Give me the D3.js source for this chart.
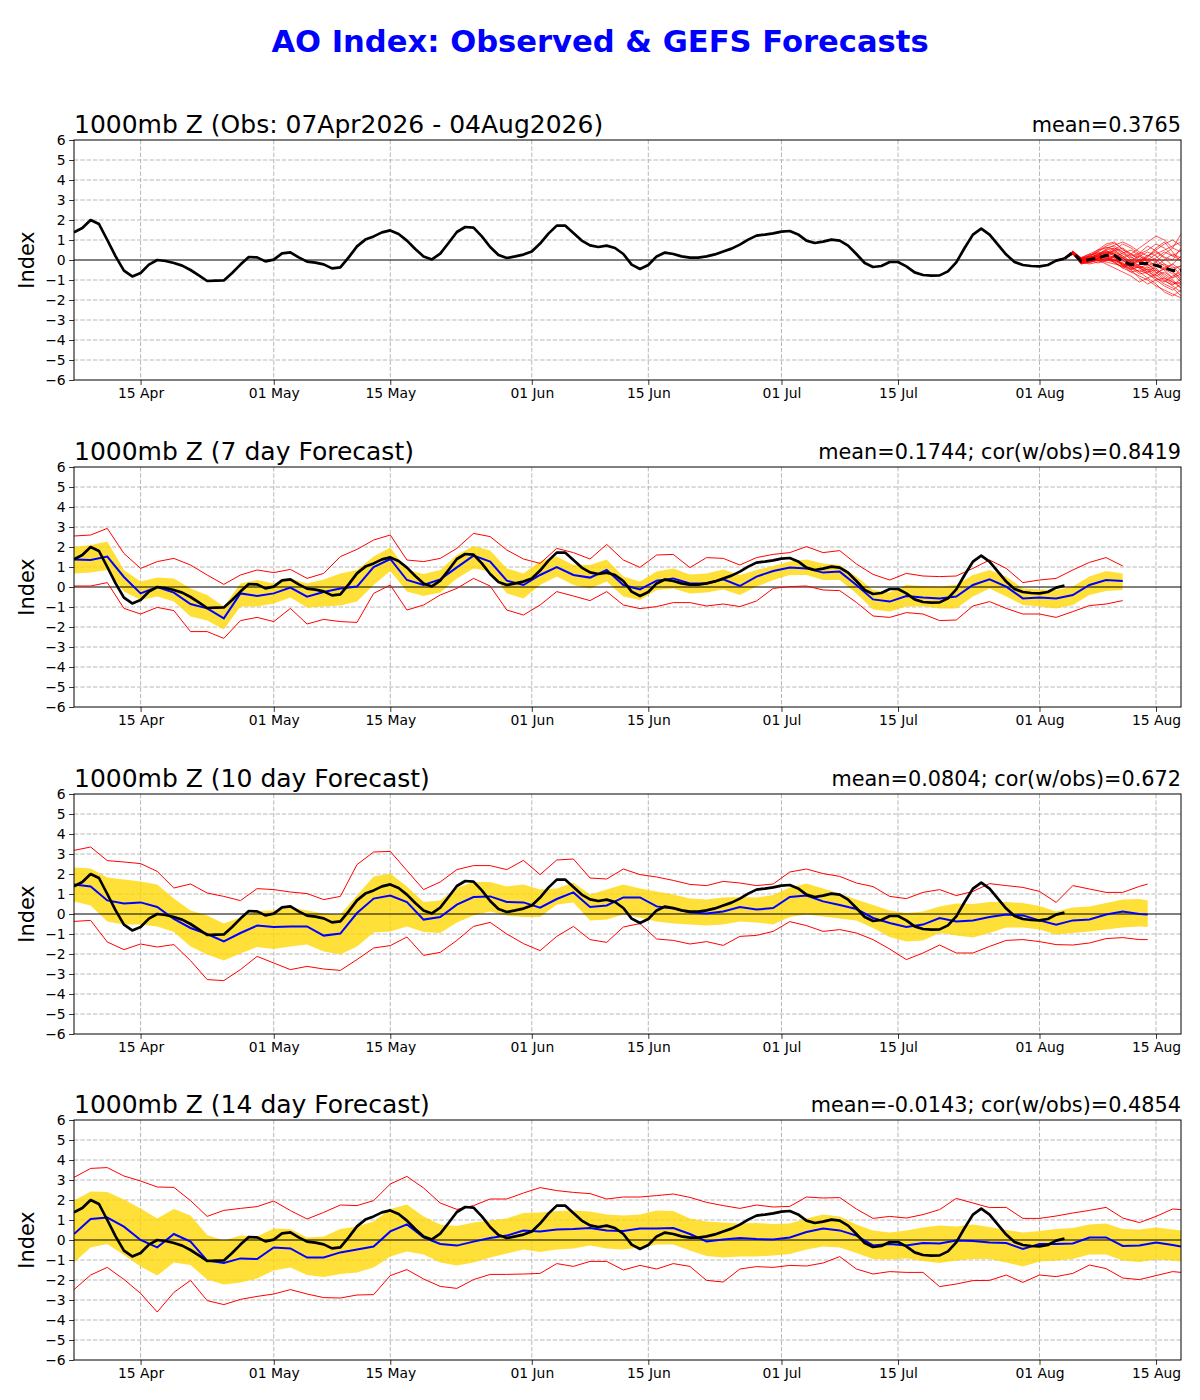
<!DOCTYPE html>
<html><head><meta charset="utf-8">
<script src="https://cdn.jsdelivr.net/npm/d3@7"></script>
<style>
body{margin:0;background:#fff}
text{font-family:"DejaVu Sans",sans-serif}
</style>
</head><body>
<svg id="c" width="1200" height="1400"></svg>
<script>
// ---------------- DATA ----------------
const mainTitle = "AO Index: Observed & GEFS Forecasts";
const panelTitles = ["1000mb Z (Obs: 07Apr2026 - 04Aug2026)", "1000mb Z (7 day Forecast)", "1000mb Z (10 day Forecast)", "1000mb Z (14 day Forecast)"];
const panelStats = ["mean=0.3765", "mean=0.1744; cor(w/obs)=0.8419", "mean=0.0804; cor(w/obs)=0.672", "mean=-0.0143; cor(w/obs)=0.4854"];
const yLabel = "Index";
const startDate = "2026-04-07";
const axisEndDay = 133;
const xTickDates = ["2026-04-15","2026-05-01","2026-05-15","2026-06-01","2026-06-15","2026-07-01","2026-07-15","2026-08-01","2026-08-15"];
const yTicks = [-6,-5,-4,-3,-2,-1,0,1,2,3,4,5,6];

// observed AO, daily from 07 Apr
const observed = [1.38,1.6,2.0,1.8,1.0,0.18,-0.53,-0.82,-0.65,-0.23,0.0,-0.05,-0.15,-0.28,-0.5,-0.77,-1.05,-1.03,-1.02,-0.65,
-0.23,0.15,0.13,-0.07,0.02,0.33,0.38,0.13,-0.08,-0.13,-0.22,-0.42,-0.37,0.13,0.68,1.02,1.18,1.38,1.48,1.3,
0.97,0.55,0.18,0.03,0.32,0.85,1.4,1.65,1.62,1.18,0.65,0.25,0.1,0.18,0.27,0.43,0.82,1.32,1.72,1.72,
1.35,0.97,0.73,0.65,0.72,0.6,0.3,-0.23,-0.45,-0.25,0.18,0.37,0.3,0.18,0.12,0.12,0.18,0.28,0.43,0.57,
0.77,1.02,1.22,1.27,1.33,1.42,1.45,1.28,0.97,0.85,0.92,1.02,0.97,0.72,0.3,-0.15,-0.35,-0.3,-0.1,-0.1,
-0.32,-0.62,-0.75,-0.78,-0.77,-0.57,-0.12,0.6,1.27,1.57,1.27,0.77,0.27,-0.1,-0.25,-0.3,-0.32,-0.25,-0.03,0.07];

// GEFS ensemble forecast from 04 Aug (first value = day 119)
const ensStartDay = 119;
const ensembleMean = [0.07,0.38,-0.07,0.02,0.1,0.23,0.23,-0.07,-0.23,-0.18,-0.18,-0.27,-0.4,-0.52,-0.52];
const ensembleMembers = [
[0.35,0.0,0.2,0.5,0.8,0.9,0.5,0.3,0.6,0.9,1.2,1.0,0.6,1.3],
[0.4,-0.1,0.1,0.3,0.4,0.2,-0.3,-0.6,-0.8,-1.0,-1.3,-1.5,-1.7,-1.9],
[0.3,-0.2,-0.1,0.0,0.2,0.1,-0.2,-0.4,-0.2,0.1,-0.1,-0.5,-0.9,-0.7],
[0.45,0.1,0.3,0.5,0.6,0.7,0.4,0.0,-0.3,-0.5,-0.4,-0.8,-1.1,-1.2],
[0.3,-0.1,-0.2,-0.1,0.0,-0.1,-0.4,-0.6,-0.5,-0.7,-0.9,-1.1,-0.8,-0.6],
[0.4,0.0,0.15,0.2,0.5,0.6,0.3,0.1,0.3,0.5,0.8,0.6,0.2,0.0],
[0.35,-0.15,0.0,0.1,0.3,0.4,0.2,-0.1,0.0,-0.2,-0.6,-1.0,-1.3,-1.6],
[0.38,0.05,0.25,0.35,0.2,0.0,-0.2,-0.3,-0.6,-0.9,-0.7,-0.4,-0.2,-0.5],
[0.42,0.0,-0.05,0.1,0.25,0.5,0.8,0.6,0.3,0.0,0.3,0.5,0.7,0.9],
[0.3,-0.05,0.1,0.0,-0.1,-0.2,-0.3,-0.1,0.2,0.0,-0.3,-0.2,-0.6,-1.0],
[0.36,-0.1,0.05,0.2,0.4,0.3,0.0,-0.4,-0.7,-0.6,-0.3,0.0,0.3,0.1],
[0.4,0.1,0.2,0.4,0.3,0.5,0.1,-0.2,-0.1,0.2,0.4,0.1,-0.3,-0.8],
[0.32,-0.2,-0.1,0.05,0.1,0.0,-0.2,-0.5,-0.9,-1.2,-1.0,-1.3,-1.5,-1.2],
[0.44,0.05,0.1,0.3,0.5,0.2,-0.1,0.0,0.2,0.4,0.2,-0.2,-0.4,-0.3],
[0.34,-0.05,0.0,-0.05,0.1,0.2,0.0,-0.3,-0.4,-0.2,-0.5,-0.7,-1.0,-1.4],
[0.38,0.0,0.1,0.15,0.35,0.45,0.6,0.3,0.0,-0.3,-0.1,0.3,0.6,0.4],
[0.4,-0.05,0.0,0.2,0.1,-0.1,-0.4,-0.2,-0.4,-0.6,-0.8,-0.6,-0.9,-0.4],
[0.36,0.05,0.2,0.1,0.0,0.2,0.1,0.3,0.1,-0.1,-0.3,-0.5,-0.2,0.2],
[0.3,-0.1,-0.05,0.1,0.3,0.1,-0.3,-0.5,-0.3,-0.5,-0.9,-1.2,-1.4,-1.8],
[0.42,0.1,0.05,0.2,0.45,0.3,0.1,-0.1,-0.3,-0.4,-0.2,-0.4,-0.6,-0.9],
[0.33,-0.12,0.05,0.25,0.55,0.75,0.9,0.7,0.4,0.2,0.5,0.8,1.0,0.7],
[0.41,0.02,0.12,0.0,-0.2,-0.4,-0.6,-0.8,-1.1,-0.9,-1.2,-1.6,-1.8,-1.5],
[0.37,-0.08,0.15,0.4,0.65,0.5,0.2,-0.1,-0.4,-0.7,-1.0,-0.9,-1.2,-1.1],
[0.39,0.08,0.0,-0.15,-0.05,0.15,0.35,0.5,0.2,-0.1,0.1,0.4,0.2,0.5],
[0.31,-0.18,-0.1,0.1,0.2,0.35,0.1,-0.15,-0.05,0.25,0.0,-0.3,-0.5,-0.3],
[0.43,0.12,0.3,0.2,0.1,-0.05,-0.25,-0.45,-0.35,-0.6,-0.5,-0.9,-1.1,-1.4],
[0.35,0.0,-0.1,0.05,0.35,0.6,0.4,0.15,-0.1,0.15,0.6,0.9,0.4,-0.1],
[0.38,-0.02,0.08,0.3,0.15,-0.15,-0.35,-0.2,0.0,-0.35,-0.65,-0.45,-0.7,-1.1],
[0.36,0.06,0.2,0.45,0.7,0.85,0.55,0.2,0.35,0.7,0.45,0.15,0.0,0.6],
[0.4,-0.1,-0.15,0.0,0.05,0.0,-0.15,-0.35,-0.6,-0.45,-0.75,-1.05,-1.25,-0.95]
];

// verified forecasts, every 2nd day from 07 Apr (plus final day)
const fcEndDays = [126, 129, 133];

const blue7 = [1.38,1.35,1.52,0.5,-0.32,0.0,-0.28,-0.85,-1.07,-1.57,-0.32,-0.45,-0.32,-0.03,-0.48,-0.25,-0.08,0.02,1.0,1.4,0.35,0.1,0.38,0.98,1.57,1.27,0.32,0.1,0.6,1.0,0.6,0.47,0.85,0.1,
-0.12,0.32,0.43,0.18,0.18,0.38,0.05,0.52,0.8,0.98,0.93,0.72,0.77,0.1,-0.62,-0.73,-0.45,-0.52,-0.57,-0.48,0.1,0.38,0.02,-0.57,-0.52,-0.57,-0.4,0.1,0.35,0.3];
const upper7 = [2.0,2.1,2.27,0.85,0.27,0.48,0.43,-0.07,-0.4,-0.98,0.18,0.35,0.18,0.43,0.18,0.38,0.68,0.85,1.52,1.98,0.85,0.65,0.85,1.6,2.05,1.82,0.93,0.68,1.27,1.52,1.1,1.1,1.38,0.52,
0.27,0.77,0.93,0.63,0.68,0.88,0.6,0.85,1.05,1.27,1.38,1.18,1.1,0.52,-0.15,-0.28,0.1,0.05,0.02,0.1,0.6,0.85,0.52,-0.07,-0.12,-0.15,0.02,0.52,0.8,0.68];
const lower7 = [0.68,0.72,0.85,-0.23,-0.65,-0.48,-0.73,-1.48,-1.68,-2.12,-0.98,-0.98,-0.82,-0.52,-1.03,-0.98,-0.92,-0.73,0.1,0.8,-0.23,-0.45,-0.28,0.43,0.93,0.77,-0.32,-0.57,0.1,0.52,0.1,-0.07,0.27,-0.48,
-0.65,-0.15,-0.07,-0.32,-0.28,-0.12,-0.4,0.02,0.35,0.6,0.6,0.35,0.35,-0.32,-1.12,-1.23,-0.98,-0.98,-1.07,-1.07,-0.48,-0.07,-0.48,-0.9,-0.98,-1.07,-0.9,-0.4,-0.2,-0.15];
const max7 = [2.55,2.6,2.93,1.68,0.93,1.27,1.43,1.1,0.6,0.13,0.6,0.85,0.72,0.88,0.43,0.68,1.52,1.88,2.35,2.6,1.35,1.27,1.43,1.93,2.68,2.52,1.85,1.4,1.18,1.93,1.72,1.4,2.13,1.35,
0.98,1.6,1.63,0.97,1.47,1.43,1.1,1.47,1.63,1.72,2.02,1.72,1.82,1.15,0.63,0.35,0.68,0.55,0.52,0.55,0.93,1.35,0.93,0.22,0.35,0.43,0.85,1.23,1.47,1.05];
const min7 = [0.05,0.05,0.22,-1.07,-1.35,-1.02,-1.18,-2.23,-2.23,-2.57,-1.68,-1.52,-1.73,-1.07,-1.85,-1.62,-1.73,-1.77,-0.32,0.1,-1.15,-0.9,-0.4,-0.07,0.43,0.05,-1.15,-1.4,-0.9,-0.23,-0.45,-0.68,-0.23,-0.9,
-1.08,-0.98,-0.78,-0.78,-0.95,-0.85,-0.98,-0.7,-0.07,0.02,0.05,-0.15,-0.18,-0.77,-1.45,-1.52,-1.28,-1.35,-1.68,-1.65,-0.95,-0.73,-1.07,-1.35,-1.35,-1.52,-1.23,-0.93,-0.85,-0.68];

const blue10 = [1.47,1.38,0.68,0.52,0.58,0.35,-0.25,-0.7,-1.0,-1.37,-0.95,-0.58,-0.65,-0.62,-0.62,-1.08,-0.98,0.05,0.77,0.92,0.6,-0.28,-0.15,0.47,0.85,0.88,0.6,0.58,0.32,0.75,1.08,0.35,0.43,0.83,
0.83,0.38,0.28,0.08,0.03,0.13,0.35,0.22,0.3,0.85,0.92,0.63,0.45,0.25,-0.2,-0.45,-0.65,-0.53,-0.2,-0.37,-0.33,-0.15,-0.03,-0.07,-0.32,-0.53,-0.32,-0.27,-0.03,0.12,0.0,-0.02];
const upper10 = [2.33,2.27,1.83,1.73,1.62,1.47,0.77,0.18,-0.07,-0.48,-0.17,0.15,0.18,0.33,0.18,0.02,-0.03,0.92,1.88,2.02,1.38,0.6,0.67,1.3,1.6,1.6,1.38,1.48,1.22,1.27,1.58,0.97,1.22,1.47,
1.27,1.12,0.98,0.78,0.72,0.83,0.85,0.82,0.95,1.33,1.52,1.27,1.02,0.72,0.45,0.18,0.05,0.12,0.38,0.52,0.5,0.6,0.6,0.55,0.4,0.13,0.32,0.37,0.55,0.72,0.75,0.67];
const lower10 = [0.63,0.43,-0.37,-0.53,-0.52,-0.62,-0.9,-1.62,-2.03,-2.32,-1.98,-1.65,-1.75,-1.62,-1.53,-1.87,-2.03,-1.62,-0.92,-0.87,-0.62,-0.9,-0.95,-0.42,-0.08,0.12,-0.08,-0.15,-0.15,0.47,0.58,-0.32,-0.28,-0.02,
-0.17,-0.38,-0.48,-0.53,-0.58,-0.52,-0.37,-0.42,-0.52,-0.15,-0.03,-0.12,-0.22,-0.33,-0.7,-1.15,-1.37,-1.32,-0.95,-1.08,-1.17,-0.95,-0.68,-0.67,-0.78,-1.03,-0.95,-0.87,-0.77,-0.67,-0.62,-0.65];
const max10 = [3.18,3.35,2.67,2.6,2.52,2.13,1.3,1.5,1.05,0.88,0.67,1.27,1.22,1.1,1.02,0.72,0.88,2.47,3.1,3.13,2.17,1.22,1.6,2.22,2.42,2.42,2.22,2.68,1.97,2.7,2.75,1.8,1.75,2.25,
1.97,1.85,1.68,1.48,1.42,1.63,1.55,1.42,1.5,2.1,2.25,2.02,1.88,1.55,1.37,0.88,0.77,1.08,1.22,0.92,1.13,1.52,1.42,1.33,1.13,0.58,1.42,1.25,1.08,1.08,1.38,1.5];
const min10 = [-0.37,-0.32,-1.4,-1.78,-1.5,-1.65,-1.53,-2.33,-3.28,-3.33,-2.78,-2.12,-2.45,-2.78,-2.62,-2.75,-2.82,-2.28,-1.7,-1.58,-1.15,-2.07,-1.92,-1.32,-0.62,-0.42,-1.0,-1.48,-1.83,-1.12,-0.62,-1.28,-1.42,-0.65,
-0.48,-1.25,-1.32,-1.5,-1.38,-1.57,-1.12,-1.07,-0.87,-0.38,-0.58,-0.87,-0.78,-0.95,-1.28,-1.75,-2.28,-1.95,-1.55,-1.95,-1.95,-1.62,-1.32,-1.28,-1.38,-1.53,-1.55,-1.45,-1.23,-1.18,-1.28,-1.28];

const blue14 = [0.3,1.05,1.12,0.67,0.0,-0.37,0.3,-0.08,-1.03,-1.15,-0.92,-0.95,-0.37,-0.42,-0.88,-0.87,-0.62,-0.48,-0.33,0.43,0.78,0.13,-0.2,-0.28,-0.08,0.1,0.22,0.47,0.43,0.52,0.55,0.6,0.48,0.45,
0.58,0.57,0.6,0.3,-0.07,0.02,0.1,0.05,0.02,0.13,0.4,0.58,0.48,0.22,-0.27,-0.2,-0.28,-0.15,-0.18,-0.03,-0.05,-0.12,-0.15,-0.45,-0.2,-0.2,-0.17,0.12,0.13,-0.3,-0.28,-0.12,-0.25,-0.33];
const upper14 = [1.97,2.42,2.4,2.03,1.58,1.08,1.55,1.22,0.25,-0.03,0.22,0.18,0.58,0.55,0.13,0.18,0.55,0.68,0.92,1.55,1.78,1.18,0.77,0.7,0.88,0.98,1.08,1.35,1.37,1.45,1.47,1.42,1.27,1.22,
1.27,1.47,1.45,1.08,0.93,0.87,0.83,0.85,0.8,0.83,1.08,1.27,1.18,0.78,0.48,0.38,0.48,0.62,0.72,0.68,0.78,0.65,0.5,0.38,0.45,0.55,0.6,0.77,0.82,0.55,0.53,0.62,0.52,0.47];
const lower14 = [-1.12,-0.37,-0.2,-0.75,-1.32,-1.78,-1.12,-1.25,-1.98,-2.22,-2.12,-1.92,-1.53,-1.38,-1.75,-1.85,-1.7,-1.62,-1.37,-0.82,-0.58,-0.72,-1.12,-1.28,-1.12,-0.87,-0.68,-0.48,-0.6,-0.48,-0.42,-0.28,-0.42,-0.48,
-0.37,-0.23,-0.22,-0.53,-0.8,-0.88,-0.83,-0.82,-0.78,-0.7,-0.48,-0.32,-0.38,-0.65,-0.95,-0.98,-0.92,-1.05,-1.15,-1.03,-0.95,-0.95,-1.12,-1.32,-1.08,-1.02,-0.95,-0.73,-0.73,-1.03,-1.1,-0.98,-1.02,-1.08];
const max14 = [3.13,3.58,3.62,3.2,2.95,2.65,2.63,1.97,1.18,1.48,1.58,1.67,1.95,1.47,1.05,1.38,1.75,1.72,1.97,2.8,3.18,2.6,1.85,1.53,1.72,2.05,2.05,2.35,2.62,2.47,2.38,2.32,2.05,2.15,
2.15,2.22,2.3,2.13,1.88,1.72,1.58,1.75,1.65,1.68,2.15,2.1,2.12,1.55,1.08,1.18,1.1,1.27,1.52,2.08,1.85,1.62,1.63,1.08,1.08,1.2,1.35,1.48,1.63,1.1,0.87,1.18,1.55,1.52];
const min14 = [-2.48,-1.75,-1.37,-1.97,-2.67,-3.6,-2.62,-2.02,-3.03,-3.23,-2.97,-2.82,-2.7,-2.48,-2.7,-2.88,-2.9,-2.75,-2.73,-1.78,-1.48,-1.95,-2.32,-2.42,-1.98,-1.72,-1.72,-1.7,-1.67,-1.18,-1.32,-1.07,-1.07,-1.5,
-1.27,-1.45,-1.18,-1.32,-2.02,-2.1,-1.45,-1.33,-1.37,-1.27,-1.3,-1.15,-0.83,-1.45,-1.7,-1.58,-1.62,-1.62,-2.33,-2.2,-2.03,-2.02,-1.75,-2.12,-1.75,-1.83,-1.67,-1.25,-1.43,-1.9,-1.98,-1.78,-1.58,-1.62];

// ---------------- CHART ----------------
const svg = d3.select("#c");
const left = 74, right = 1181, panelH = 240;
const panelTops = [140, 467, 794, 1120];
const parse = d3.utcParse("%Y-%m-%d");
const t0 = parse(startDate);
const dayDate = d => d3.utcDay.offset(t0, d);
const x = d3.scaleUtc().domain([t0, dayDate(axisEndDay)]).range([left, right]);
const y = d3.scaleLinear().domain([-6, 6]).range([panelH, 0]);
const gridDays = end => { const a = d3.range(0, end + 1, 2); if (a[a.length-1] !== end) a.push(end); return a; };

const forecasts = [null,
  {end: fcEndDays[0], blue: blue7, upper: upper7, lower: lower7, max: max7, min: min7},
  {end: fcEndDays[1], blue: blue10, upper: upper10, lower: lower10, max: max10, min: min10},
  {end: fcEndDays[2], blue: blue14, upper: upper14, lower: lower14, max: max14, min: min14}];

svg.append("rect").attr("width",1200).attr("height",1400).attr("fill","#fff");
svg.append("text").attr("x", 600).attr("y", 52).attr("text-anchor","middle")
  .style("font-size","30.6px").style("font-weight","bold").attr("fill","#0000ff").text(mainTitle);

const line = d3.line().x(p => x(dayDate(p.d))).y(p => y(p.v));
const area = d3.area().x(p => x(dayDate(p.d))).y0(p => y(p.lo)).y1(p => y(p.hi));
const obsPts = observed.map((v, i) => ({d: i, v}));

panelTops.forEach((top, pi) => {
  const g = svg.append("g").attr("transform", `translate(0,${top})`);
  const clipId = "clip" + pi;
  g.append("clipPath").attr("id", clipId).append("rect")
    .attr("x", left).attr("y", 0).attr("width", right - left).attr("height", panelH);

  // grid
  const grid = g.append("g").attr("stroke", "#b0b0b0").attr("stroke-width", 0.9).attr("stroke-dasharray", "4.4,1.9");
  grid.selectAll(".gy").data(yTicks.filter(t => t !== 0 && Math.abs(t) < 6)).join("line")
    .attr("x1", left).attr("x2", right).attr("y1", d => y(d)).attr("y2", d => y(d));
  grid.selectAll(".gx").data(xTickDates).join("line")
    .attr("x1", d => x(parse(d))).attr("x2", d => x(parse(d))).attr("y1", 0).attr("y2", panelH);

  const plot = g.append("g").attr("clip-path", `url(#${clipId})`);
  const fc = forecasts[pi];
  if (fc) {
    const days = gridDays(fc.end);
    const band = days.map((d, i) => ({d, lo: fc.lower[i], hi: fc.upper[i]}));
    plot.append("path").attr("d", area(band)).attr("fill", "#ffd700").attr("fill-opacity", 0.78);
    plot.append("line").attr("x1", left).attr("x2", right).attr("y1", y(0)).attr("y2", y(0))
      .attr("stroke", "#000").attr("stroke-width", 1);
    [fc.max, fc.min].forEach(arr => {
      plot.append("path").attr("d", line(days.map((d, i) => ({d, v: arr[i]}))))
        .attr("fill", "none").attr("stroke", "#ff0000").attr("stroke-width", 1);
    });
    plot.append("path").attr("d", line(days.map((d, i) => ({d, v: fc.blue[i]}))))
      .attr("fill", "none").attr("stroke", "#0000ff").attr("stroke-width", 2);
    plot.append("path").attr("d", line(obsPts)).attr("fill", "none")
      .attr("stroke", "#000").attr("stroke-width", 2.7).attr("stroke-linejoin", "round");
  } else {
    plot.append("line").attr("x1", left).attr("x2", right).attr("y1", y(0)).attr("y2", y(0))
      .attr("stroke", "#000").attr("stroke-width", 1);
    plot.append("path").attr("d", line(obsPts)).attr("fill", "none")
      .attr("stroke", "#000").attr("stroke-width", 2.7).attr("stroke-linejoin", "round");
    const startV = observed[ensStartDay];
    ensembleMembers.forEach(m => {
      const pts = [{d: ensStartDay, v: startV}].concat(m.map((v, i) => ({d: ensStartDay + 1 + i, v})));
      plot.append("path").attr("d", line(pts)).attr("fill", "none")
        .attr("stroke", "#ff0000").attr("stroke-opacity", 0.75).attr("stroke-width", 0.9);
    });
    plot.append("path").attr("d", line(ensembleMean.map((v, i) => ({d: ensStartDay + i, v}))))
      .attr("fill", "none").attr("stroke", "#000").attr("stroke-width", 3).attr("stroke-dasharray", "9,5");
  }

  // frame
  g.append("rect").attr("x", left).attr("y", 0).attr("width", right - left).attr("height", panelH)
    .attr("fill", "none").attr("stroke", "#000").attr("stroke-width", 1);

  // axes
  const ya = g.append("g").attr("transform", `translate(${left},0)`)
    .call(d3.axisLeft(y).tickValues(yTicks).tickSize(4.9).tickPadding(3.5).tickFormat(d3.format("d")));
  const xa = g.append("g").attr("transform", `translate(0,${panelH})`)
    .call(d3.axisBottom(x).tickValues(xTickDates.map(parse)).tickSize(4.9).tickPadding(3.5).tickFormat(d3.utcFormat("%d %b")));
  [ya, xa].forEach(a => {
    a.select(".domain").remove();
    a.selectAll("text").style("font-size", "13.9px").style("font-family", '"DejaVu Sans",sans-serif').attr("fill", "#000");
    a.selectAll("line").attr("stroke", "#000").attr("stroke-width", 0.8);
  });

  // titles
  g.append("text").attr("x", left).attr("y", -7).style("font-size", "25px").attr("fill", "#000").text(panelTitles[pi]);
  g.append("text").attr("x", right).attr("y", -8).attr("text-anchor", "end").style("font-size", "20.8px").attr("fill", "#000").text(panelStats[pi]);
  g.append("text").attr("transform", `translate(34,${panelH/2}) rotate(-90)`).attr("text-anchor", "middle")
    .style("font-size", "20.8px").attr("fill", "#000").text(yLabel);
});
</script>
</body></html>
